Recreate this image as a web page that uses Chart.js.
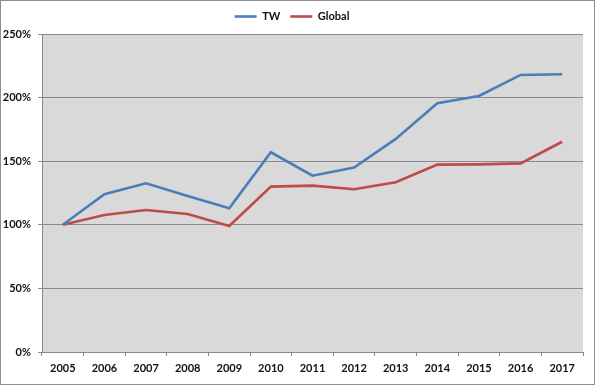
<!DOCTYPE html>
<html>
<head>
<meta charset="utf-8">
<script src="https://cdn.jsdelivr.net/npm/chart.js@4.4.0/dist/chart.umd.min.js"></script>
<style>
    html, body { margin: 0; padding: 0; background: #fff; }
    #wrap {
        width: 595px;
        height: 385px;
        box-sizing: border-box;
        border: 1px solid #8e8e8e;
        position: relative;
    }
</style>
</head>
<body>
<div id="wrap"><canvas id="chart"></canvas></div>
<script>
// Values (index, 2005 = 100%)
const years = ['2005', '2006', '2007', '2008', '2009', '2010', '2011', '2012', '2013', '2014', '2015', '2016', '2017'];
const twValues = [100, 124, 132.6, 122.6, 113, 157, 138.6, 145, 167.5, 195.5, 201.3, 217.8, 218.3];
const globalValues = [100, 107.7, 111.6, 108.5, 99.1, 130, 130.8, 127.9, 133.4, 147.3, 147.5, 148.3, 165.3];
const yTicks = [0, 50, 100, 150, 200, 250];

const axisGray = '#8a8a8a';
const labelFont = {family: 'Lato, "Open Sans", sans-serif', size: 11, weight: 'bold'};

// Grey plot area like the old Excel style
const plotBackground = {
    id: 'plotBackground',
    beforeDraw(chart) {
        const {ctx, chartArea} = chart;
        ctx.save();
        ctx.fillStyle = '#d9d9d9';
        ctx.fillRect(chartArea.left, chartArea.top, chartArea.right - chartArea.left, chartArea.bottom - chartArea.top);
        ctx.restore();
    }
};

// Fix the legend height so the plot starts where the reference does
const legendHeight = {
    id: 'legendHeight',
    beforeInit(chart) {
        const fit = chart.legend.fit;
        chart.legend.fit = function () {
            fit.bind(chart.legend)();
            this.height = 33;
        };
    }
};

new Chart(document.getElementById('chart'), {
    type: 'line',
    data: {
        labels: years,
        datasets: [{
            label: 'TW',
            data: twValues,
            borderColor: '#4a7ebb',
            backgroundColor: '#4a7ebb',
            borderWidth: 2.6,
            pointRadius: 0,
            tension: 0
        }, {
            label: 'Global',
            data: globalValues,
            borderColor: '#be4b48',
            backgroundColor: '#be4b48',
            borderWidth: 2.6,
            pointRadius: 0,
            tension: 0
        }]
    },
    options: {
        responsive: true,
        maintainAspectRatio: false,
        animation: false,
        layout: {padding: {left: 0, right: 11, top: 0, bottom: 0}},
        plugins: {
            legend: {
                position: 'top',
                align: 'center',
                labels: {
                    font: labelFont,
                    color: '#111',
                    usePointStyle: true,
                    pointStyle: 'line',
                    pointStyleWidth: 22,
                    padding: 10
                }
            },
            tooltip: {enabled: false}
        },
        scales: {
            x: {
                offset: true,
                afterFit(scale) { scale.height = 32; },
                grid: {
                    offset: true,
                    drawOnChartArea: false,
                    drawTicks: true,
                    tickLength: 4,
                    color: axisGray
                },
                border: {color: axisGray},
                ticks: {
                    font: labelFont,
                    color: '#111',
                    padding: 6,
                    maxRotation: 0,
                    autoSkip: false
                }
            },
            y: {
                min: 0,
                max: 250,
                afterFit(scale) { scale.width = 41; },
                afterBuildTicks(scale) {
                    scale.ticks = yTicks.map(v => ({value: v}));
                },
                grid: {
                    color: axisGray,
                    tickLength: 4,
                    drawTicks: true
                },
                border: {color: axisGray},
                ticks: {
                    font: labelFont,
                    color: '#111',
                    padding: 7,
                    callback: v => v + '%'
                }
            }
        }
    },
    plugins: [plotBackground, legendHeight]
});
</script>
</body>
</html>
